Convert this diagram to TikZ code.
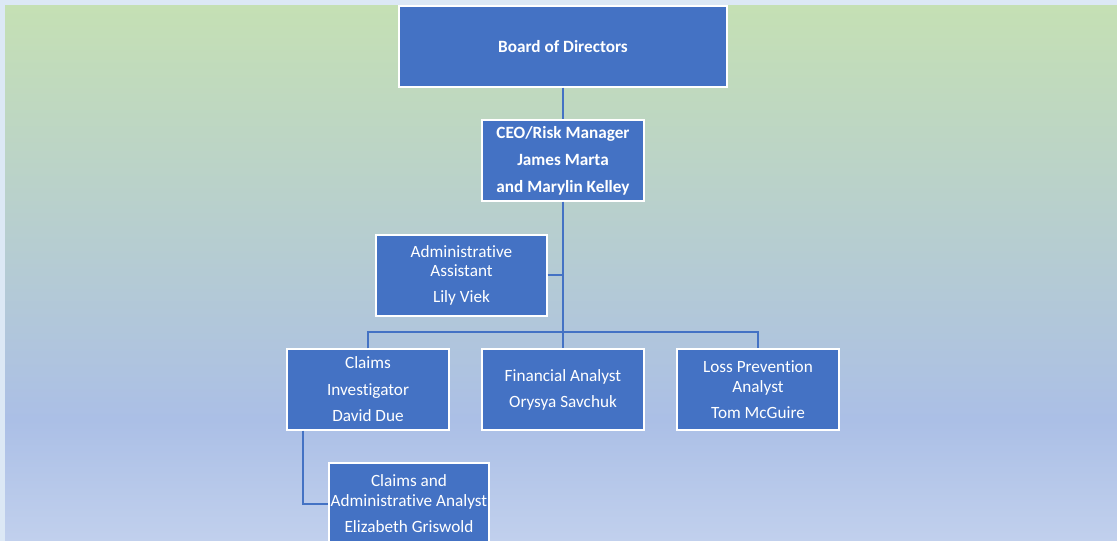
\documentclass[tikz,border=0pt]{standalone}
\usepackage{fontspec}
\setmainfont{Carlito}[Ligatures=NoCommon]
\definecolor{boxblue}{HTML}{4472C4}
\definecolor{edgeblue}{HTML}{DCE8F5}
\definecolor{bgtop}{HTML}{C5E0B4}
\definecolor{bgmid}{HTML}{B7D0CC}
\definecolor{bglow}{HTML}{ABBFE6}
\definecolor{bgend}{HTML}{C1D0ED}
\begin{document}
\begin{tikzpicture}[x=0.75pt,y=-0.75pt,font=\fontsize{12.9}{14.5}\selectfont]
        \tikzset{box/.style={draw=white, line width=1pt, fill=boxblue, text=white, minimum width=121.5pt, minimum height=60.75pt, align=center, inner sep=1pt},
                 head/.style={box, font=\fontsize{12.9}{14.5}\selectfont\bfseries},
                 link/.style={draw=boxblue, line width=1.5pt}}
        \useasboundingbox (0,0) rectangle (1117,541);
        % background
        \fill[edgeblue] (0,0) rectangle (1117,541);
        \shade[top color=bgtop, middle color=bgmid, bottom color=bglow] (5,6) rectangle (1117,420);
        \shade[top color=bglow, bottom color=bgend] (5,420) rectangle (1117,541);
        % boxes
        \node[head, minimum width=246pt] (board) at (563,46.5) {Board of Directors};
        \node[head] (ceo) at (563,160.5) {CEO/Risk Manager\\[5.75pt] James Marta\\[5.75pt] and Marylin Kelley};
        \node[box, minimum width=128.25pt] (admin) at (461.5,275.5) {Administrative\\ Assistant\\[5pt] Lily Viek};
        \node[box] (claims) at (368,389.5) {Claims\\[5.75pt] Investigator\\[5pt] David Due};
        \node[box] (fin) at (563,389.5) {Financial Analyst\\[5pt] Orysya Savchuk};
        \node[box] (loss) at (758,389.5) {Loss Prevention\\ Analyst\\[5pt] Tom McGuire};
        \node[box, minimum width=120pt] (analyst) at (409,503.5) {Claims and\\ Administrative Analyst\\[5pt] Elizabeth Griswold};
        % connectors
        \coordinate (bus) at (563,332);
        \draw[link] (board) -- (ceo);
        \draw[link] (ceo) -- (fin);
        \draw[link] (admin.east) -- (admin.east -| ceo.south);
        \draw[link] (claims.north) |- (bus) -| (loss.north);
        \draw[link] ([xshift=12.75pt]claims.south west) |- (analyst.west);
    \end{tikzpicture}
\end{document}
